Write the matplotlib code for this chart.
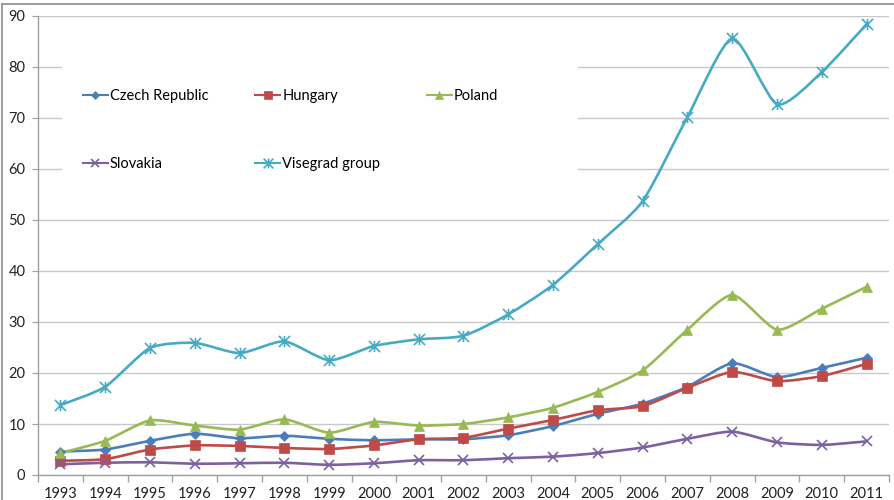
import numpy as np
import matplotlib
matplotlib.use("Agg")
import matplotlib.pyplot as plt
from matplotlib.path import Path
from matplotlib.patches import PathPatch, Rectangle
from matplotlib.lines import Line2D

plt.rcParams['font.family'] = ['Lato', 'DejaVu Sans']

years = list(range(1993, 2012))

czech = [4.6, 5.0, 6.7, 8.1, 7.2, 7.7, 7.1, 6.8, 7.0, 7.0, 7.8, 9.6, 12.0, 14.0, 17.3, 21.9, 19.2, 21.0, 23.0]
hungary = [2.8, 3.1, 5.0, 5.8, 5.7, 5.3, 5.1, 5.8, 7.0, 7.3, 9.1, 10.8, 12.7, 13.5, 17.1, 20.2, 18.4, 19.4, 21.8]
poland = [4.3, 6.7, 10.7, 9.7, 8.9, 10.9, 8.3, 10.4, 9.7, 10.0, 11.3, 13.2, 16.3, 20.5, 28.5, 35.3, 28.5, 32.6, 36.9]
slovakia = [2.1, 2.4, 2.5, 2.2, 2.3, 2.4, 2.0, 2.3, 2.9, 2.9, 3.3, 3.6, 4.3, 5.4, 7.1, 8.5, 6.4, 5.9, 6.6]
visegrad = [13.7, 17.3, 24.9, 25.9, 23.9, 26.2, 22.5, 25.3, 26.6, 27.3, 31.5, 37.3, 45.3, 53.7, 70.2, 85.6, 72.7, 79.0, 88.4]

names = ["Czech Republic", "Hungary", "Poland", "Slovakia", "Visegrad group"]
series = [czech, hungary, poland, slovakia, visegrad]
colors = ["#4A7EBB", "#BE4B48", "#98B954", "#7D60A0", "#46AAC5"]

# excel style star marker: x with a vertical bar
star = Path([(0, -1), (0, 1), (-1, -1), (1, 1), (-1, 1), (1, -1)],
            [Path.MOVETO, Path.LINETO, Path.MOVETO, Path.LINETO, Path.MOVETO, Path.LINETO])
markers = ["D", "s", "^", "x", star]
msizes = [5, 7, 7, 7, 8]


def smooth_path(xs, ys, k=9.0):
    # light bezier smoothing, like excel "smoothed line"
    pts = np.column_stack([xs, ys]).astype(float)
    n = len(pts)
    verts = [pts[0]]
    codes = [Path.MOVETO]
    for i in range(n - 1):
        p0 = pts[i - 1] if i > 0 else pts[i]
        p1 = pts[i]
        p2 = pts[i + 1]
        p3 = pts[i + 2] if i + 2 < n else pts[i + 1]
        c1 = p1 + (p2 - p0) / k
        c2 = p2 - (p3 - p1) / k
        verts += [c1, c2, p2]
        codes += [Path.CURVE4] * 3
    return Path(verts, codes)


fig = plt.figure(figsize=(8.95, 5.0), dpi=100)
ax = fig.add_axes([38 / 895, 1 - 475 / 500, (889 - 38) / 895, (475 - 16) / 500])

x = np.arange(len(years))
handles = {}
for name, vals, c, m, ms in zip(names, series, colors, markers, msizes):
    ax.add_patch(PathPatch(smooth_path(x, vals), facecolor="none", edgecolor=c, lw=1.9, zorder=3))
    mew = 1.2 if (m is star or m == "x") else 0.5
    ax.plot(x, vals, linestyle="none", marker=m, markersize=ms, color=c,
            markeredgecolor=c, markeredgewidth=mew, zorder=4)
    handles[name] = Line2D([], [], color=c, lw=1.5, marker=m, markersize=ms - 1,
                           markeredgewidth=mew)

ax.set_xlim(-0.5, len(years) - 0.5)
ax.set_ylim(0, 90)
ax.set_yticks(range(0, 91, 10))
ax.set_xticks(x)
ax.set_xticklabels([str(y) for y in years])
ax.set_xticks(np.arange(-0.5, len(years), 1), minor=True)
ax.tick_params(axis="x", which="major", length=0, pad=9, labelsize=10.5, labelcolor="#222222")
ax.tick_params(axis="x", which="minor", length=5, color="#A0A0A0", width=1)
ax.tick_params(axis="y", length=4, color="#A0A0A0", labelsize=10.5, labelcolor="#222222", pad=5)

ax.grid(axis="y", color="#C8C8C8", lw=1.0, zorder=0)
ax.set_axisbelow(True)
for s in ["top", "right"]:
    ax.spines[s].set_visible(False)
for s in ["left", "bottom"]:
    ax.spines[s].set_color("#A0A0A0")
    ax.spines[s].set_linewidth(1.0)

# white box behind the legend
fig.patches.append(Rectangle((62 / 895, 1 - 205 / 500), (578 - 62) / 895, (205 - 55) / 500,
                             transform=fig.transFigure, facecolor="white", edgecolor="none", zorder=1))

# legend fills by column, so order it to read row-wise like the original
order = ["Czech Republic", "Slovakia", "Hungary", "Visegrad group", "Poland"]
leg = fig.legend(handles=[handles[n] for n in order], labels=order, ncol=3, loc="upper left",
                 bbox_to_anchor=(83 / 895, 1 - 89 / 500), frameon=False, fontsize=10.5,
                 handlelength=1.7, handletextpad=0.15, columnspacing=3.2, labelspacing=3.7,
                 borderpad=0, borderaxespad=0)
leg.set_zorder(5)

# outer chart border (top and left visible)
fig.add_artist(Line2D([2 / 895, 2 / 895], [0, 1 - 4 / 500], transform=fig.transFigure, color="#8C8C8C", lw=1.2))
fig.add_artist(Line2D([2 / 895, 1], [1 - 4 / 500, 1 - 4 / 500], transform=fig.transFigure, color="#8C8C8C", lw=1.2))

fig.savefig("out.png", dpi=100)
